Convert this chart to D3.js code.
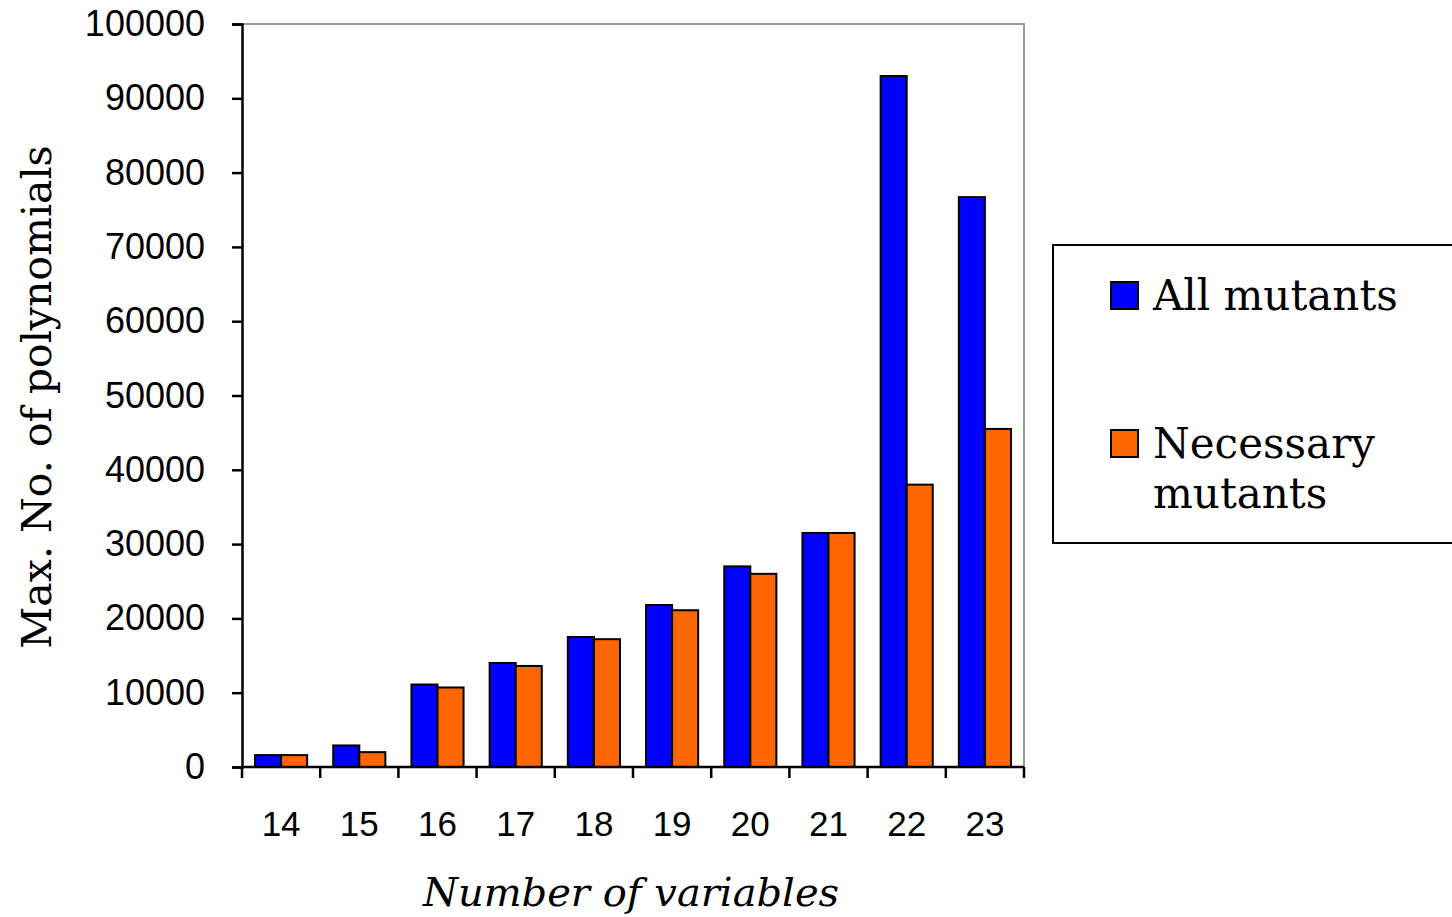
<!DOCTYPE html>
<html lang="en">
<head>
<meta charset="UTF-8" />
<title>Max. No. of polynomials</title>
<script src="https://d3js.org/d3.v7.min.js"></script>
<style>
    body { margin: 0; background: #fff; }
    svg { display: block; }
    .tick text { font-family: "Liberation Sans", Arial, sans-serif; font-size: 36px; fill: #000; }
    .serif { font-family: "DejaVu Serif", "Liberation Serif", serif; fill: #000; }
</style>
</head>
<body>
<svg id="chart" width="1452" height="917"></svg>
<script>
    const categories = ["14", "15", "16", "17", "18", "19", "20", "21", "22", "23"];
    const allMutants = [1600, 2900, 11100, 14000, 17500, 21800, 27000, 31500, 93000, 76700];
    const necessaryMutants = [1600, 2000, 10700, 13600, 17200, 21100, 26000, 31500, 38000, 45500];
    const seriesNames = ["All mutants", "Necessary mutants"];
    const seriesColors = ["#0000ff", "#ff6600"];
    const yTicks = [0, 10000, 20000, 30000, 40000, 50000, 60000, 70000, 80000, 90000, 100000];

    const svg = d3.select("#chart");
    const plotL = 242, plotR = 1024, plotT = 24, plotB = 767;

    const x = d3.scaleBand().domain(categories).range([plotL, plotR]).paddingInner(0).paddingOuter(0);
    const inner = d3.scaleBand().domain([0, 1]).range([0, x.bandwidth()]).paddingInner(0).paddingOuter(0.5);
    const y = d3.scaleLinear().domain([0, 100000]).range([plotB, plotT]);

    // frame top/right (grey)
    svg.append("path")
        .attr("d", `M${plotL},${plotT}H${plotR}V${plotB}`)
        .attr("fill", "none").attr("stroke", "#999").attr("stroke-width", 2);

    // bars
    const data = categories.map((c, i) => ({ c, v: [allMutants[i], necessaryMutants[i]] }));
    const groups = svg.append("g").selectAll("g").data(data).join("g")
        .attr("transform", d => `translate(${x(d.c)},0)`);
    groups.selectAll("rect").data(d => d.v.map((v, k) => ({ v, k }))).join("rect")
        .attr("x", d => inner(d.k))
        .attr("y", d => y(d.v))
        .attr("width", inner.bandwidth())
        .attr("height", d => y(0) - y(d.v))
        .attr("fill", d => seriesColors[d.k])
        .attr("stroke", "#000").attr("stroke-width", 2);

    // y axis
    const yAxis = svg.append("g").attr("transform", `translate(${plotL},0)`)
        .call(d3.axisLeft(y).tickValues(yTicks).tickFormat(d3.format("d")).tickSize(10).tickPadding(27));
    yAxis.select(".domain").attr("stroke-width", 2.5);
    yAxis.selectAll(".tick line").attr("stroke-width", 2.5);

    // x axis: ticks at band boundaries
    const xAxis = svg.append("g").attr("transform", `translate(0,${plotB})`);
    xAxis.append("line").attr("x1", plotL).attr("x2", plotR).attr("stroke", "#000").attr("stroke-width", 2.5);
    const bounds = categories.map(c => x(c)).concat([x(categories[categories.length - 1]) + x.bandwidth()]);
    xAxis.selectAll("line.t").data(bounds).join("line").attr("class", "t")
        .attr("x1", d => d).attr("x2", d => d).attr("y1", 0).attr("y2", 11)
        .attr("stroke", "#000").attr("stroke-width", 2.5);
    xAxis.selectAll("text").data(categories).join("text")
        .attr("x", d => x(d) + x.bandwidth() / 2).attr("y", 69)
        .attr("text-anchor", "middle")
        .style("font-family", "'Liberation Sans', Arial, sans-serif").style("font-size", "35px")
        .text(d => d);

    // axis titles
    svg.append("text").attr("class", "serif")
        .attr("transform", `translate(51,397) rotate(-90)`)
        .attr("text-anchor", "middle").style("font-size", "41px")
        .text("Max. No. of polynomials");
    svg.append("text").attr("class", "serif")
        .attr("x", 631).attr("y", 906)
        .attr("text-anchor", "middle").style("font-size", "40px").style("font-style", "italic")
        .text("Number of variables");

    // legend
    const lg = svg.append("g");
    lg.append("rect").attr("x", 1053).attr("y", 245).attr("width", 420).attr("height", 298)
        .attr("fill", "#fff").attr("stroke", "#000").attr("stroke-width", 2);
    const legendRows = [{ lines: ["All mutants"], y: 282 }, { lines: ["Necessary", "mutants"], y: 430 }];
    legendRows.forEach((r, k) => {
        lg.append("rect").attr("x", 1111).attr("y", r.y).attr("width", 27).attr("height", 27)
            .attr("fill", seriesColors[k]).attr("stroke", "#000").attr("stroke-width", 2);
        r.lines.forEach((t, j) => {
            lg.append("text").attr("class", "serif")
                .attr("x", 1153).attr("y", r.y + 28 + j * 50)
                .style("font-size", "42px").text(t);
        });
    });
</script>
</body>
</html>
